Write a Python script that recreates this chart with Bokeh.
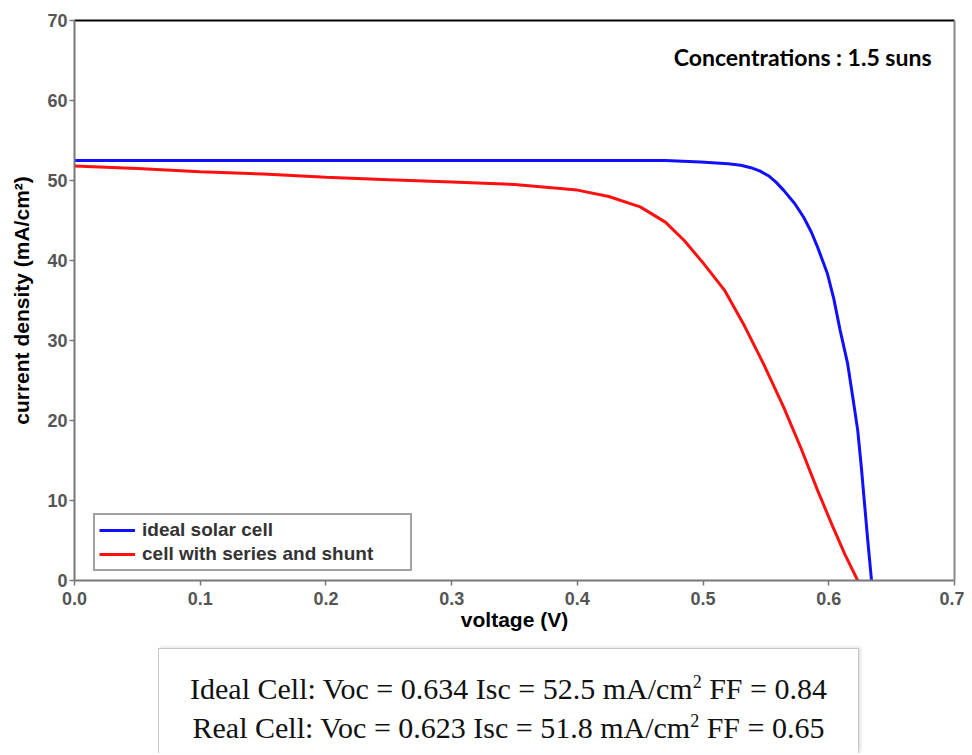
from bokeh.plotting import figure
from bokeh.models import Label, LinearAxis, Legend, LegendItem, Range1d, FixedTicker, Div
from bokeh.layouts import column
from bokeh.embed import file_html
from bokeh.resources import INLINE

# ideal solar cell
v_ideal = [0.0, 0.10, 0.20, 0.30, 0.40, 0.47, 0.498, 0.52, 0.530, 0.538, 0.545, 0.552,
           0.558, 0.564, 0.573, 0.580, 0.586, 0.591, 0.596, 0.599, 0.604, 0.609, 0.615,
           0.619, 0.623, 0.626, 0.628, 0.631, 0.634]
i_ideal = [52.5, 52.5, 52.5, 52.5, 52.5, 52.5, 52.3, 52.1, 51.9, 51.6, 51.2, 50.6,
           49.8, 48.8, 47.1, 45.4, 43.6, 41.7, 39.6, 38.3, 35.2, 31.3, 27.1,
           23.0, 18.8, 14.0, 10.4, 5.0, 0.0]

# cell with series and shunt resistance
v_real = [0.0, 0.05, 0.10, 0.15, 0.20, 0.25, 0.30, 0.35, 0.40, 0.425, 0.45, 0.47,
          0.485, 0.50, 0.517, 0.533, 0.548, 0.564, 0.578, 0.591, 0.603, 0.613, 0.623]
i_real = [51.8, 51.5, 51.1, 50.8, 50.4, 50.1, 49.8, 49.5, 48.8, 48.0, 46.7, 44.8,
          42.5, 39.7, 36.3, 31.8, 27.1, 21.7, 16.5, 11.3, 6.8, 3.2, 0.0]

x_ticks = [0.0, 0.1, 0.2, 0.3, 0.4, 0.5, 0.6, 0.7]
y_ticks = [0, 10, 20, 30, 40, 50, 60, 70]

series_names = ["ideal solar cell", "cell with series and shunt"]
concentration_text = "Concentrations : 1.5 suns"
cells = ["Ideal Cell", "Real Cell"]
voc = ["0.634", "0.623"]
isc = ["52.5", "51.8"]
ff = ["0.84", "0.65"]

p = figure(width=964, height=642, output_backend="svg", toolbar_location=None,
           x_range=Range1d(0, 0.7), y_range=Range1d(0, 70),
           min_border_left=74, min_border_right=10, min_border_top=20,
           min_border_bottom=62)
p.outline_line_color = None
p.grid.visible = False
p.background_fill_color = "white"
p.border_fill_color = "white"

tick_font = "Liberation Sans"
for ax in (p.xaxis[0], p.yaxis[0]):
    ax.axis_line_color = "#777777"
    ax.axis_line_width = 2
    ax.major_tick_line_color = "#777777"
    ax.major_tick_line_width = 1.5
    ax.major_tick_in = 0
    ax.major_tick_out = 5
    ax.minor_tick_line_color = None
    ax.major_label_text_font = tick_font
    ax.major_label_text_font_style = "bold"
    ax.major_label_text_font_size = "18px"
    ax.major_label_text_color = "#555555"
    ax.axis_label_text_font = tick_font
    ax.axis_label_text_font_style = "bold"
    ax.axis_label_text_color = "black"

p.xaxis[0].ticker = FixedTicker(ticks=x_ticks)
p.yaxis[0].ticker = FixedTicker(ticks=y_ticks)
p.xaxis[0].major_label_overrides = {t: f"{t:.1f}" for t in x_ticks}
p.xaxis.axis_label = "voltage (V)"
p.yaxis.axis_label = "current density (mA/cm\u00b2)"
p.xaxis[0].axis_label_text_font_size = "21px"
p.yaxis[0].axis_label_text_font_size = "21px"
p.xaxis[0].axis_label_standoff = 0
p.yaxis[0].axis_label_standoff = 11
p.xaxis[0].major_label_standoff = 6
p.yaxis[0].major_label_standoff = 2

top_axis = LinearAxis(ticker=FixedTicker(ticks=[]), major_label_text_font_size="0px",
                      axis_line_color="black", axis_line_width=2,
                      major_tick_line_color=None, minor_tick_line_color=None)
right_axis = LinearAxis(ticker=FixedTicker(ticks=[]), major_label_text_font_size="0px",
                        axis_line_color="#888888", axis_line_width=2,
                        major_tick_line_color=None, minor_tick_line_color=None)
p.add_layout(top_axis, "above")
p.add_layout(right_axis, "right")

r1 = p.line(v_ideal, i_ideal, line_color="#1010ff", line_width=3)
r2 = p.line(v_real, i_real, line_color="#ff1010", line_width=3)

legend = Legend(items=[LegendItem(label=series_names[0], renderers=[r1]),
                       LegendItem(label=series_names[1], renderers=[r2])],
                location=(19, 9), border_line_color="#444444", border_line_width=2,
                label_text_font=tick_font, label_text_font_style="bold",
                label_text_font_size="19px", label_text_color="#333333",
                glyph_width=36, glyph_height=20, label_height=20, label_width=264,
                label_standoff=7, padding=4, spacing=2, margin=0,
                background_fill_alpha=1.0)
p.add_layout(legend, "center")

p.add_layout(Label(x=0.6817, y=65.4, text=concentration_text, text_align="right",
                   text_baseline="middle", text_font="Lato", text_font_style="bold",
                   text_font_size="23px", text_color="black"))

# summary box below the chart
lines_html = "<br>".join(
    f"{c}: Voc = {v} Isc = {i} mA/cm<sup style='font-size:18px;line-height:0'>2</sup> FF = {f}"
    for c, v, i, f in zip(cells, voc, isc, ff))
summary = Div(
    text=(f"<div style=\"font-family:'Liberation Serif','Times New Roman',serif;"
          f"font-size:30px;line-height:39px;color:#111;text-align:center;"
          f"width:701px;height:105px;box-sizing:border-box;padding-top:20px;"
          f"border:1.5px solid #c8c8c8;border-bottom:none;background:white;"
          f"box-shadow:2px -1px 3px rgba(0,0,0,0.12);white-space:nowrap;\">"
          f"{lines_html}</div>"),
    width=704, height=106, margin=(6, 0, 0, 158))

layout = column(p, summary, spacing=0)
open("out.html", "w").write(file_html(layout, INLINE))
